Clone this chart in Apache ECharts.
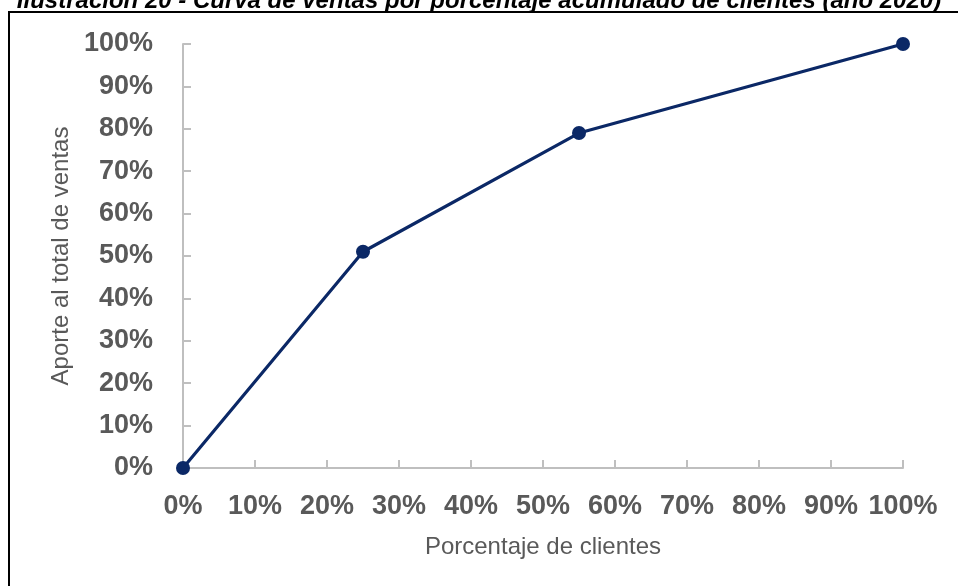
<!DOCTYPE html>
<html>
<head>
<meta charset="utf-8">
<script src="https://cdn.jsdelivr.net/npm/echarts@6/dist/echarts.min.js"></script>
<style>
  html, body { margin: 0; padding: 0; background: #ffffff; }
  #chart { width: 958px; height: 586px; }
</style>
</head>
<body>
<div id="chart"></div>
<script>
// Cumulative share of customers (x) vs cumulative share of sales (y), in %
const clientesPct = [0, 25, 55, 100];
const ventasPct = [0, 51, 79, 100];
const tituloTexto = 'Ilustración 20 - Curva de ventas por porcentaje acumulado de clientes (año 2020)';
const nombreEjeX = 'Porcentaje de clientes';
const nombreEjeY = 'Aporte al total de ventas';

const puntos = clientesPct.map((x, i) => [x, ventasPct[i]]);

const gris = '#595959';
const grisEje = '#bfbfbf';
const fuente = 'Liberation Sans, Arial, sans-serif';

const chart = echarts.init(document.getElementById('chart'), null, { renderer: 'canvas' });
chart.setOption({
  backgroundColor: '#ffffff',
  animation: false,
  title: {
    text: tituloTexto,
    left: 'center',
    top: -16,
    textStyle: {
      fontFamily: fuente,
      fontSize: 24,
      fontWeight: 'bold',
      fontStyle: 'italic',
      color: '#000000'
    }
  },
  graphic: [
    { type: 'line', shape: { x1: 8, y1: 12, x2: 958, y2: 12 }, style: { stroke: '#000000', lineWidth: 2 } },
    { type: 'line', shape: { x1: 9, y1: 12, x2: 9, y2: 586 }, style: { stroke: '#000000', lineWidth: 2 } }
  ],
  grid: { left: 183, right: 55, top: 44, bottom: 118 },
  xAxis: {
    type: 'value',
    min: 0, max: 100, interval: 10,
    name: nombreEjeX,
    nameLocation: 'middle',
    nameGap: 67,
    nameTextStyle: { fontFamily: fuente, fontSize: 24, color: gris },
    axisLine: { show: true, lineStyle: { color: grisEje, width: 2 } },
    axisTick: { show: true, inside: true, length: 8, lineStyle: { color: grisEje, width: 2 } },
    splitLine: { show: false },
    axisLabel: {
      formatter: v => v + '%',
      margin: 25,
      fontFamily: fuente,
      fontSize: 27, fontWeight: 'bold', color: gris
    }
  },
  yAxis: {
    type: 'value',
    min: 0, max: 100, interval: 10,
    name: nombreEjeY,
    nameLocation: 'middle',
    nameGap: 108,
    nameTextStyle: { fontFamily: fuente, fontSize: 24, color: gris },
    axisLine: { show: true, lineStyle: { color: grisEje, width: 2 } },
    axisTick: { show: true, inside: true, length: 8, lineStyle: { color: grisEje, width: 2 } },
    splitLine: { show: false },
    axisLabel: {
      formatter: v => v + '%',
      margin: 30,
      fontFamily: fuente,
      fontSize: 27, fontWeight: 'bold', color: gris
    }
  },
  series: [{
    type: 'line',
    data: puntos,
    symbol: 'circle',
    symbolSize: 14,
    lineStyle: { color: '#0b2866', width: 3.2 },
    itemStyle: { color: '#0b2866' }
  }]
});
</script>
</body>
</html>
